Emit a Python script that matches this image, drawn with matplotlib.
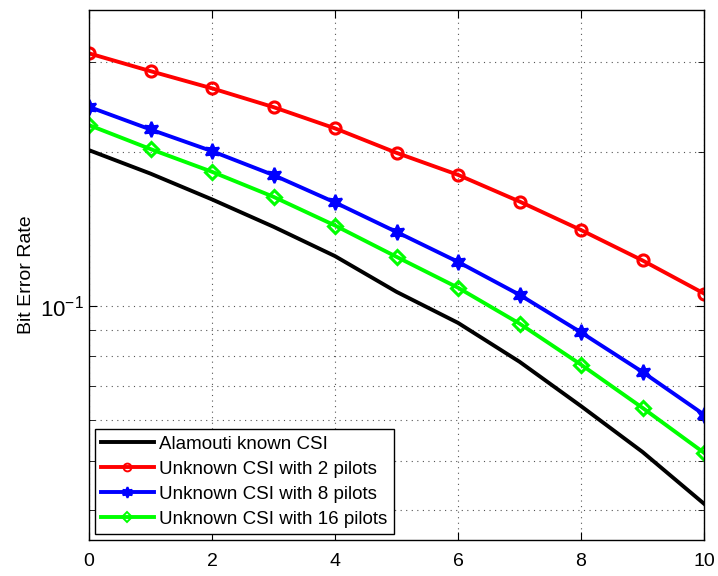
import numpy as np
import matplotlib
matplotlib.use("Agg")
import matplotlib.pyplot as plt
from matplotlib.ticker import NullFormatter, FixedLocator

plt.rcParams['font.family'] = ['Liberation Sans', 'DejaVu Sans']
plt.rcParams['mathtext.fontset'] = 'custom'
plt.rcParams['mathtext.rm'] = 'Liberation Sans'
plt.rcParams['mathtext.it'] = 'Liberation Sans:italic'
plt.rcParams['mathtext.bf'] = 'Liberation Sans:bold'

snr = [0, 1, 2, 3, 4, 5, 6, 7, 8, 9, 10]
ber_known = [0.2019, 0.1817, 0.1618, 0.1431, 0.1254, 0.1068, 0.0929, 0.0780, 0.0639, 0.0520, 0.0412]
ber_2 = [0.312, 0.288, 0.2666, 0.245, 0.2227, 0.1995, 0.1807, 0.1603, 0.141, 0.123, 0.106]
ber_8 = [0.2453, 0.2216, 0.201, 0.1805, 0.1596, 0.1398, 0.1222, 0.1054, 0.0890, 0.0745, 0.0615]
ber_16 = [0.2260, 0.2029, 0.1832, 0.1637, 0.1439, 0.1250, 0.1088, 0.0926, 0.0770, 0.0634, 0.0518]

labels = ["Alamouti known CSI",
          "Unknown CSI with 2 pilots",
          "Unknown CSI with 8 pilots",
          "Unknown CSI with 16 pilots"]

fig = plt.figure(figsize=(7.18, 5.76), dpi=100)
ax = fig.add_axes([0.124, 0.0625, 0.8565, 0.921])

lw = 2.8
ax.semilogy(snr, ber_known, color='black', lw=lw, label=labels[0])
ax.semilogy(snr, ber_2, color='red', lw=lw, marker='o', ms=8, mfc='none',
            mew=2.2, label=labels[1])
ax.semilogy(snr, ber_8, color='blue', lw=lw, marker=(6, 1, 0), ms=11,
            mfc='blue', mew=1.5, label=labels[2])
ax.semilogy(snr, ber_16, color=(0, 1, 0), lw=lw, marker='D', ms=7.5, mfc='none',
            mew=2.2, label=labels[3])

ax.set_xlim(0, 10)
ax.set_ylim(0.035, 0.38)
ax.set_xticks([0, 2, 4, 6, 8, 10])
ax.yaxis.set_major_locator(FixedLocator([0.1]))
ax.yaxis.set_minor_locator(FixedLocator([0.04, 0.05, 0.06, 0.07, 0.08, 0.09, 0.2, 0.3]))
ax.yaxis.set_minor_formatter(NullFormatter())

ax.grid(True, which='both', linestyle=(0, (1, 4)), color='#555555', lw=0.8)
ax.tick_params(which='both', direction='in', top=True, right=True, labelsize=14)
ax.tick_params(axis='y', labelsize=16)
ax.tick_params(which='major', length=6)
ax.tick_params(which='minor', length=4)
ax.tick_params(axis='x', pad=9)
for s in ax.spines.values():
    s.set_linewidth(1.0)

ax.set_ylabel("Bit Error Rate", fontsize=14, labelpad=4)

leg = ax.legend(loc='lower left', fontsize=13.5, fancybox=False, framealpha=1,
                edgecolor='black', borderaxespad=0.3, handlelength=2.8,
                labelspacing=0.42, borderpad=0.35, handletextpad=0.3,
                markerscale=0.7)
leg.get_frame().set_linewidth(1.0)
for h in leg.legend_handles:
    h.set_markeredgewidth(1.4)

fig.savefig("out.png", dpi=100)
